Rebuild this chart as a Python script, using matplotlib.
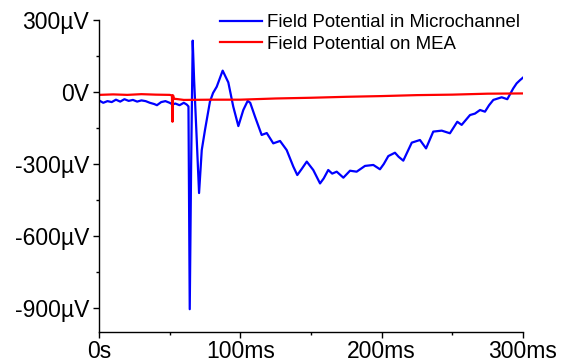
import numpy as np
import matplotlib
matplotlib.use('Agg')
import matplotlib.pyplot as plt
from matplotlib.ticker import MultipleLocator

plt.rcParams['font.family'] = ['Liberation Sans', 'DejaVu Sans']

# Field potential in microchannel (time in ms, voltage in uV)
t_micro = [0, 3, 6, 9, 12, 15, 18, 21, 24, 27, 30, 33, 36, 39, 41, 44, 47, 50,
           52, 54, 57, 60, 62, 63.3, 64.2, 65.2, 66.3, 67.3, 68.8, 70.8, 72.7,
           75, 78.5, 80.7, 83.3, 87.5, 91.5, 95, 98.6, 102.1, 105.2, 107, 110.4,
           115.1, 118.7, 123.3, 128.1, 132.8, 137.5, 140.3, 143.5, 147, 151.6,
           156.4, 159, 162.2, 165, 168.2, 172.9, 177.6, 182.3, 188.2, 194.1,
           198.8, 201.5, 204.7, 209.4, 212, 215.3, 221.3, 227.1, 231.4, 236.5,
           242.5, 248.3, 253.5, 256.6, 262.5, 266, 269.6, 273.1, 276, 279,
           284.9, 288.9, 293.1, 295.5, 298, 300]
v_micro = [-35, -45, -38, -42, -32, -40, -30, -37, -33, -40, -35, -38, -45, -50,
           -55, -42, -38, -45, -52, -48, -55, -45, -52, -60, -905, -300, 214,
           50, -150, -421, -242, -158, -40, -4, 22, 89, 40, -61, -142, -75, -37,
           -45, -103, -179, -171, -214, -204, -242, -311, -346, -320, -290,
           -325, -381, -360, -325, -340, -332, -357, -328, -332, -308, -304,
           -322, -300, -267, -253, -270, -286, -211, -200, -235, -165, -161,
           -172, -124, -137, -96, -90, -75, -82, -55, -33, -22, -30, 15, 36, 50,
           60]

# Field potential on MEA
t_mea = [0, 10, 20, 30, 40, 50, 51.6, 52.0, 52.4, 53, 56, 60, 80, 100, 125,
         150, 175, 200, 225, 250, 275, 300]
v_mea = [-12, -10, -12, -9, -11, -12, -14, -124, -14, -28, -30, -33, -32, -32,
         -27, -24, -20, -17, -13, -11, -7, -6]

y_ticks = [300, 0, -300, -600, -900]
y_labels = ['300µV', '0V', '-300µV', '-600µV', '-900µV']
x_ticks = [0, 100, 200, 300]
x_labels = ['0s', '100ms', '200ms', '300ms']

fig = plt.figure(figsize=(5.67, 3.63), dpi=100)
ax = fig.add_axes([0.1746, 0.0854, 0.7478, 0.8595])

ax.plot(t_micro, v_micro, color='#0000ff', lw=1.6,
        label='Field Potential in Microchannel')
ax.plot(t_mea, v_mea, color='#ff0000', lw=1.6, label='Field Potential on MEA')

ax.set_xlim(0, 300)
ax.set_ylim(-1000, 300)

ax.spines['top'].set_visible(False)
ax.spines['right'].set_visible(False)
for s in ['left', 'bottom']:
    ax.spines[s].set_linewidth(1.0)

ax.set_yticks(y_ticks)
ax.set_yticklabels(y_labels)
ax.set_xticks(x_ticks)
ax.set_xticklabels(x_labels)
ax.yaxis.set_minor_locator(MultipleLocator(150))
ax.xaxis.set_minor_locator(MultipleLocator(50))
ax.tick_params(which='major', direction='out', length=4, width=1.0,
               labelsize=16.5, pad=3)
ax.tick_params(axis='x', which='major', pad=2)
ax.tick_params(which='minor', direction='out', length=2.3, width=1.0)

# legend without frame, top right above the curves
leg = ax.legend(loc='upper left', bbox_to_anchor=(0.285, 1.019), frameon=False,
                fontsize=13.4, handlelength=2.25, handletextpad=0.3,
                labelspacing=0.26, borderpad=0, borderaxespad=0)

fig.savefig('out.png', dpi=100)
